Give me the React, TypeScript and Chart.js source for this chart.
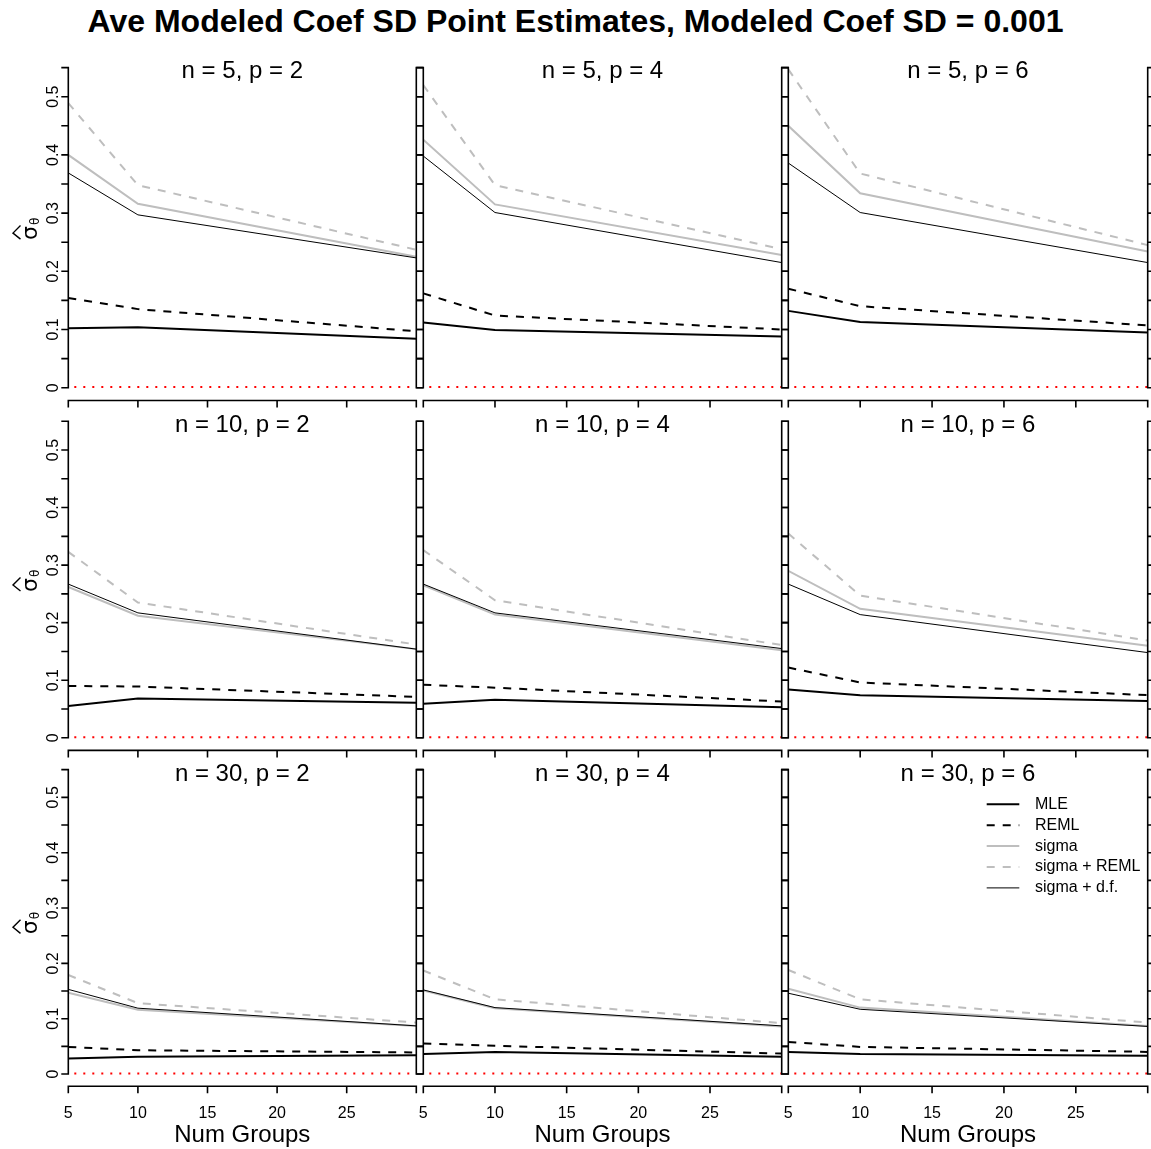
import React, { useEffect, useRef } from "react";
import { Chart, registerables } from "chart.js";

Chart.register(...registerables);

// ---------------- data ----------------
const numGroups = [5, 10, 30];
const nValues = [5, 10, 30];
const pValues = [2, 4, 6];
const trueCoefSD = 0.001;
const xTickValues = [5, 10, 15, 20, 25, 30];
const xTickLabels = ["5", "10", "15", "20", "25", ""];
const yTickValues = [0, 0.05, 0.1, 0.15, 0.2, 0.25, 0.3, 0.35, 0.4, 0.45, 0.5, 0.55];
const yTickLabels = ["0", "", "0.1", "", "0.2", "", "0.3", "", "0.4", "", "0.5", ""];
const seriesNames = ["MLE", "REML", "sigma", "sigma + REML", "sigma + d.f."];
const mainTitle = "Ave Modeled Coef SD Point Estimates, Modeled Coef SD = 0.001";
const xAxisTitle = "Num Groups";

// one entry per panel (rows n = 5, 10, 30; columns p = 2, 4, 6); values at numGroups 5, 10, 30
const mleValues = [
  [0.102, 0.104, 0.084],
  [0.112, 0.099, 0.088],
  [0.132, 0.113, 0.095],
  [0.055, 0.068, 0.061],
  [0.059, 0.066, 0.053],
  [0.084, 0.074, 0.064],
  [0.028, 0.031, 0.034],
  [0.036, 0.040, 0.031],
  [0.040, 0.036, 0.033],
];
const remlValues = [
  [0.154, 0.135, 0.097],
  [0.162, 0.124, 0.100],
  [0.170, 0.140, 0.107],
  [0.090, 0.089, 0.071],
  [0.092, 0.087, 0.063],
  [0.122, 0.096, 0.074],
  [0.049, 0.043, 0.039],
  [0.055, 0.051, 0.037],
  [0.058, 0.049, 0.040],
];
const sigmaValues = [
  [0.400, 0.316, 0.225],
  [0.426, 0.315, 0.228],
  [0.450, 0.334, 0.234],
  [0.262, 0.212, 0.154],
  [0.265, 0.214, 0.152],
  [0.290, 0.224, 0.160],
  [0.147, 0.116, 0.087],
  [0.151, 0.119, 0.086],
  [0.154, 0.120, 0.087],
];
const sigmaRemlValues = [
  [0.489, 0.348, 0.237],
  [0.520, 0.348, 0.238],
  [0.547, 0.368, 0.245],
  [0.323, 0.235, 0.162],
  [0.326, 0.239, 0.161],
  [0.355, 0.247, 0.169],
  [0.179, 0.128, 0.093],
  [0.187, 0.135, 0.092],
  [0.188, 0.135, 0.093],
];
const sigmaDfValues = [
  [0.369, 0.297, 0.223],
  [0.398, 0.301, 0.215],
  [0.386, 0.301, 0.215],
  [0.267, 0.217, 0.154],
  [0.267, 0.217, 0.155],
  [0.267, 0.214, 0.148],
  [0.153, 0.119, 0.087],
  [0.152, 0.120, 0.087],
  [0.146, 0.117, 0.086],
];

// ---------------- layout / style ----------------
const FONT = '"Liberation Sans", Arial, Helvetica, sans-serif';
const GRAY = "#bebebe";
const COL_AREA = [
  [68.3, 416.3],
  [423.3, 781.7],
  [788.3, 1147.7],
];
const ROW_AREA = [
  [54.8, 400.5],
  [408.6, 750.4],
  [757.5, 1086.2],
];
const COL_CANVAS = [
  [0, 430],
  [415, 790],
  [780, 1151],
];
const ROW_CANVAS = [
  [40, 415],
  [395, 765],
  [745, 1149],
];
const Y_MIN = -0.022;
const Y_MAX = 0.572;
const TICK = 7;

const seriesStyles = [
  { color: "#000000", width: 2, dash: [] as number[] },
  { color: "#000000", width: 2, dash: [8, 8] },
  { color: GRAY, width: 2, dash: [] as number[] },
  { color: GRAY, width: 2, dash: [8, 8] },
  { color: "#000000", width: 1, dash: [] as number[] },
];

function pts(vals: number[]) {
  return numGroups.map((g, i) => ({ x: g, y: vals[i] }));
}

function decorPlugin(row: number, col: number) {
  return {
    id: "decor" + row + col,
    afterDraw(chart: any) {
      const ctx: CanvasRenderingContext2D = chart.ctx;
      const xs = chart.scales.x;
      const ys = chart.scales.y;
      const a = chart.chartArea;
      const yPix = yTickValues.map((v) => ys.getPixelForValue(v));
      const xPix = xTickValues.map((v) => xs.getPixelForValue(v));
      const yLo = yPix[0];
      const yHi = yPix[yPix.length - 1];
      ctx.save();
      ctx.strokeStyle = "#000";
      ctx.fillStyle = "#000";
      ctx.lineWidth = 1.6;
      ctx.lineCap = "butt";
      ctx.setLineDash([]);
      ctx.beginPath();
      // left axis
      ctx.moveTo(a.left, yLo + 0.8);
      ctx.lineTo(a.left, yHi - 0.8);
      yPix.forEach((p) => {
        ctx.moveTo(a.left - TICK, p);
        ctx.lineTo(a.left, p);
      });
      // right axis
      ctx.moveTo(a.right, yLo + 0.8);
      ctx.lineTo(a.right, yHi - 0.8);
      yPix.forEach((p) => {
        ctx.moveTo(a.right, p);
        ctx.lineTo(a.right + TICK, p);
      });
      // bottom axis
      ctx.moveTo(xPix[0] - 0.8, a.bottom);
      ctx.lineTo(xPix[xPix.length - 1] + 0.8, a.bottom);
      xPix.forEach((p) => {
        ctx.moveTo(p, a.bottom);
        ctx.lineTo(p, a.bottom + TICK);
      });
      ctx.stroke();

      // panel title
      ctx.font = "24px " + FONT;
      ctx.textAlign = "center";
      ctx.textBaseline = "alphabetic";
      ctx.fillText(`n = ${nValues[row]}, p = ${pValues[col]}`, (a.left + a.right) / 2, a.top + 23.3);

      // y tick labels + y title on the first column
      if (col === 0) {
        ctx.font = "16px " + FONT;
        yPix.forEach((p, i) => {
          if (!yTickLabels[i]) return;
          ctx.save();
          ctx.translate(a.left - 10.8, p);
          ctx.rotate(-Math.PI / 2);
          ctx.textAlign = "center";
          ctx.fillText(yTickLabels[i], 0, 0);
          ctx.restore();
        });
        const cy = (yLo + yHi) / 2;
        ctx.save();
        ctx.translate(37, cy);
        ctx.rotate(-Math.PI / 2);
        ctx.textAlign = "left";
        ctx.font = '22px "DejaVu Sans", ' + FONT;
        ctx.fillText("σ", -12.4, 0);
        const sw = ctx.measureText("σ").width;
        ctx.font = '12px "DejaVu Sans", ' + FONT;
        ctx.fillText("θ", -12.4 + sw + 1, 2);
        ctx.beginPath();
        ctx.lineWidth = 1.4;
        ctx.moveTo(-11.5, -16.5);
        ctx.lineTo(-12.4 + sw / 2, -24);
        ctx.lineTo(-12.4 + sw + 0.5, -16.5);
        ctx.stroke();
        ctx.restore();
      }

      // x tick labels + x title on the last row
      if (row === 2) {
        ctx.font = "16px " + FONT;
        ctx.textAlign = "center";
        xPix.forEach((p, i) => {
          if (xTickLabels[i]) ctx.fillText(xTickLabels[i], p, a.bottom + 32);
        });
        ctx.font = "24px " + FONT;
        ctx.fillText(xAxisTitle, (a.left + a.right) / 2, a.bottom + 55.5);
      }

      // legend in the last panel
      if (row === 2 && col === 2) {
        ctx.font = "16px " + FONT;
        ctx.textAlign = "left";
        ctx.textBaseline = "middle";
        seriesNames.forEach((name, i) => {
          const y = a.top + 46.8 + i * 20.9;
          const st = seriesStyles[i];
          ctx.save();
          ctx.strokeStyle = st.color;
          ctx.lineWidth = st.width;
          ctx.setLineDash(st.dash);
          ctx.beginPath();
          ctx.moveTo(a.right - 161, y);
          ctx.lineTo(a.right - 128.4, y);
          ctx.stroke();
          ctx.restore();
          ctx.fillText(name, a.right - 112.7, y);
        });
      }
      ctx.restore();
    },
  };
}

function Panel({ row, col }: { row: number; col: number }) {
  const ref = useRef<HTMLCanvasElement>(null);
  const [cl, cr] = COL_CANVAS[col];
  const [rt, rb] = ROW_CANVAS[row];
  const w = cr - cl;
  const h = rb - rt;
  useEffect(() => {
    const idx = row * 3 + col;
    const seriesData = [mleValues, remlValues, sigmaValues, sigmaRemlValues, sigmaDfValues];
    const seriesDatasets = seriesNames.map((name, i) => ({
      label: name,
      data: pts(seriesData[i][idx]),
      borderColor: seriesStyles[i].color,
      borderWidth: seriesStyles[i].width,
      borderDash: seriesStyles[i].dash,
      pointRadius: 0,
      fill: false,
      tension: 0,
    }));
    const truth = {
      label: "true",
      data: [
        { x: xTickValues[0], y: trueCoefSD },
        { x: xTickValues[xTickValues.length - 1], y: trueCoefSD },
      ],
      borderColor: "#ff0000",
      borderWidth: 2,
      borderDash: [2, 7],
      borderDashOffset: -6,
      pointRadius: 0,
      fill: false,
      tension: 0,
    };
    // first dataset is drawn on top in Chart.js
    const datasets = [truth, ...seriesDatasets.slice().reverse()];
    const [al, ar] = COL_AREA[col];
    const [at, ab] = ROW_AREA[row];
    const chart = new Chart(ref.current as HTMLCanvasElement, {
      type: "line",
      data: { datasets: datasets as any },
      options: {
        responsive: false,
        animation: false,
        devicePixelRatio: 1,
        events: [],
        layout: {
          padding: { left: al - cl, right: cr - ar, top: at - rt, bottom: rb - ab },
        },
        plugins: {
          legend: { display: false },
          tooltip: { enabled: false },
          title: { display: false },
        },
        scales: {
          x: { type: "linear", min: 5, max: 30, display: false },
          y: { type: "linear", min: Y_MIN, max: Y_MAX, display: false },
        },
      },
      plugins: [decorPlugin(row, col)],
    } as any);
    return () => chart.destroy();
  }, [row, col]);
  return (
    <canvas
      ref={ref}
      width={w}
      height={h}
      style={{ position: "absolute", left: cl, top: rt, width: w, height: h }}
    />
  );
}

export default function App() {
  const panels = [];
  for (let r = 0; r < 3; r++) for (let c = 0; c < 3; c++) panels.push(<Panel key={r + "-" + c} row={r} col={c} />);
  return (
    <div
      style={{
        position: "absolute",
        left: 0,
        top: 0,
        width: 1151,
        height: 1149,
        background: "#fff",
        overflow: "hidden",
      }}
    >
      <div
        style={{
          position: "absolute",
          left: 0,
          top: 3.9,
          width: 1151,
          height: 34,
          lineHeight: "34px",
          fontSize: 32,
          fontWeight: "bold",
          fontFamily: FONT,
          textAlign: "center",
          color: "#000",
          whiteSpace: "nowrap",
        }}
      >
        {mainTitle}
      </div>
      {panels}
    </div>
  );
}
